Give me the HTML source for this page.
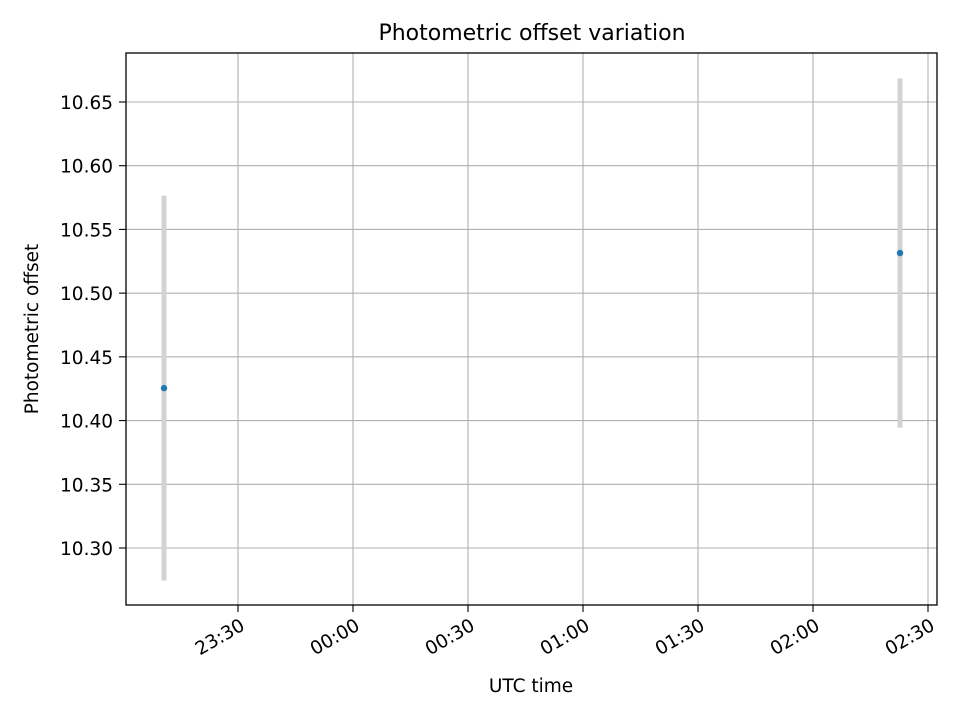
<!DOCTYPE html>
<html><head><meta charset="utf-8"><style>
body{margin:0;background:#fff;}
svg{display:block;font-family:"DejaVu Sans","Liberation Sans",sans-serif;}
</style></head><body>
<svg id="chart" width="960" height="720" viewBox="0 0 960 720">
<rect width="960" height="720" fill="#fff"/>
<text x="532" y="40" text-anchor="middle" font-size="22">Photometric offset variation</text>
<g id="grid"></g>
<g id="marks"></g>
<rect x="126" y="53" width="811" height="552" fill="none" stroke="#000" stroke-width="1.3"/>
<g id="axes"></g>
<text x="531" y="692" text-anchor="middle" font-size="18.5">UTC time</text>
<text transform="translate(38,329) rotate(-90)" text-anchor="middle" font-size="18.5">Photometric offset</text>
</svg>
<script>
// minutes relative to 00:00 UTC
const times = [-49.3, 142.7];
const offsets = [10.4255, 10.5315];
const errors = [0.151, 0.137];
const xTickMinutes = [-30, 0, 30, 60, 90, 120, 150];
const xTickLabels = ["23:30", "00:00", "00:30", "01:00", "01:30", "02:00", "02:30"];
const yTicks = [10.30, 10.35, 10.40, 10.45, 10.50, 10.55, 10.60, 10.65];
const yTickLabels = ["10.30", "10.35", "10.40", "10.45", "10.50", "10.55", "10.60", "10.65"];

const NS = "http://www.w3.org/2000/svg";
const xs = m => 353 + (m / 30) * 115;
const ys = v => 548 - (v - 10.30) / 0.05 * 63.714;
function mk(tag, attrs, parent) {
  const e = document.createElementNS(NS, tag);
  for (const k in attrs) e.setAttribute(k, attrs[k]);
  parent.appendChild(e);
  return e;
}
const grid = document.getElementById("grid");
const axes = document.getElementById("axes");
const marks = document.getElementById("marks");

xTickMinutes.forEach((m, i) => {
  const x = xs(m);
  const g = mk("line", {x1: x, x2: x, y1: 53, y2: 605, stroke: "#b0b0b0", "stroke-width": 1.1}, grid);
  
  
  const t = mk("line", {x1: x, x2: x, y1: 605, y2: 612, stroke: "#000", "stroke-width": 1.1}, axes);
  
  
  const lb = mk("text", {x: 0, y: 0, "text-anchor": "end", "font-size": 18.5, transform: `translate(${x + 8} ${629}) rotate(-30)`}, axes);
  lb.textContent = xTickLabels[i];
  
  
});
yTicks.forEach((v, i) => {
  const y = ys(v);
  const g = mk("line", {x1: 126, x2: 937, y1: y, y2: y, stroke: "#b0b0b0", "stroke-width": 1.1}, grid);
  
  
  const t = mk("line", {x1: 119, x2: 126, y1: y, y2: y, stroke: "#000", "stroke-width": 1.1}, axes);
  
  
  const lb = mk("text", {x: 113, y: y + 7, "text-anchor": "end", "font-size": 18.5}, axes);
  lb.textContent = yTickLabels[i];
  
  
});
times.forEach((m, i) => {
  const x = xs(m);
  const eb = mk("line", {x1: x, x2: x, y1: ys(offsets[i] + errors[i]), y2: ys(offsets[i] - errors[i]), stroke: "#d3d3d3", "stroke-width": 5}, marks);
  
  
  const p = mk("circle", {cx: x, cy: ys(offsets[i]), r: 3.2, fill: "#1f77b4"}, marks);
  
  
});
</script>
</body></html>
